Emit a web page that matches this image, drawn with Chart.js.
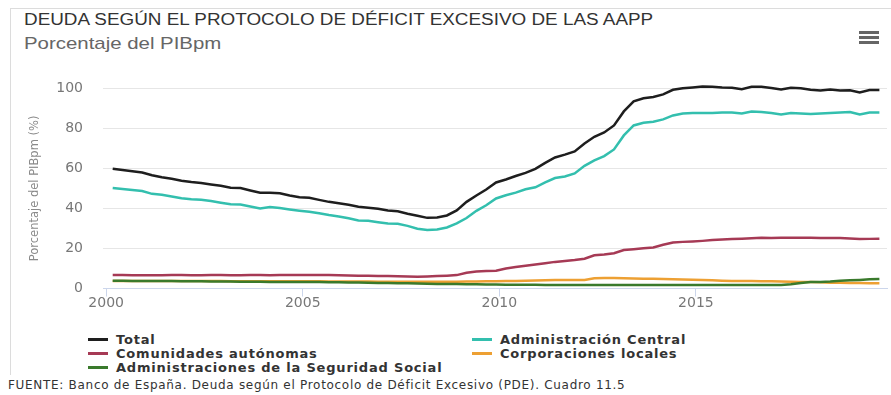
<!DOCTYPE html>
<html lang="es">
<head>
<meta charset="utf-8">
<script src="https://cdn.jsdelivr.net/npm/chart.js@4/dist/chart.umd.min.js"></script>
<style>
  html, body { margin: 0; padding: 0; background: #fff; }
  #pagina { position: relative; width: 891px; height: 395px; overflow: hidden; font-family: 'DejaVu Sans', sans-serif; }
  #marco { position: absolute; left: 10px; top: 8px; width: 900px; height: 366px; border-left: 1px solid #dcdcdc; border-top: 1px solid #dcdcdc; }
  #titulo { position: absolute; left: 24px; top: 11px; font: 16px 'Liberation Sans', Arial, sans-serif; color: #333; white-space: nowrap; transform: scaleX(1.18); transform-origin: left center; }
  #subtitulo { position: absolute; left: 24px; top: 34px; font: 17px 'Liberation Sans', Arial, sans-serif; color: #666; white-space: nowrap; transform: scaleX(1.2); transform-origin: left center; }
  #menu { position: absolute; left: 859px; top: 31px; width: 20px; }
  #menu div { height: 3px; background: #666; margin-bottom: 2px; }
  #lienzo { position: absolute; left: 0; top: 60px; width: 891px; height: 260px; }
  #leyenda { position: absolute; left: 88px; top: 333px; width: 780px; }
  .item { position: absolute; font: bold 13px 'DejaVu Sans', sans-serif; letter-spacing: 0.8px; color: #333; white-space: nowrap; line-height: 14px; }
  .item span { display: inline-block; width: 20px; height: 3px; vertical-align: middle; margin-right: 8px; position: relative; top: -1px; }
  #fuente { position: absolute; left: 8px; top: 378px; font: 12px 'DejaVu Sans', sans-serif; letter-spacing: 0.7px; color: #333; white-space: nowrap; }
</style>
</head>
<body>
<div id="pagina">
  <div id="marco"></div>
  <div id="titulo">DEUDA SEGÚN EL PROTOCOLO DE DÉFICIT EXCESIVO DE LAS AAPP</div>
  <div id="subtitulo">Porcentaje del PIBpm</div>
  <div id="menu"><div></div><div></div><div></div></div>
  <div id="lienzo"><canvas id="grafica"></canvas></div>
  <div id="leyenda"></div>
  <div id="fuente">FUENTE: Banco de España. Deuda según el Protocolo de Déficit Excesivo (PDE). Cuadro 11.5</div>
</div>
<script>
// Trimestres 2000-T1 ... 2019-T3 (dato de fin de trimestre)
const trimestres = [];
for (let a = 2000; a <= 2019; a++) {
  for (let t = 1; t <= 4; t++) {
    if (a === 2019 && t > 3) break;
    trimestres.push(a + '-T' + t);
  }
}

const anios = [2000, 2005, 2010, 2015];
const marcasY = [0, 20, 40, 60, 80, 100];

const total = [
  59.8, 59.2, 58.6, 58.0, 56.6, 55.6, 54.8, 53.9, 53.2, 52.7,
  52.0, 51.3, 50.4, 50.2, 49.0, 47.9, 47.9, 47.6, 46.5, 45.6,
  45.3, 44.3, 43.3, 42.6, 41.8, 40.9, 40.4, 39.8, 39.0, 38.6,
  37.4, 36.4, 35.3, 35.5, 36.5, 39.0, 43.3, 46.5, 49.5, 53.0,
  54.5, 56.2, 57.8, 59.8, 62.8, 65.5, 66.9, 68.5, 72.5, 75.8,
  78.0, 81.5, 88.5, 93.5, 95.1, 95.7, 97.0, 99.3, 100.1, 100.5,
  101.0, 100.8, 100.4, 100.3, 99.6, 100.8, 100.8, 100.2, 99.5, 100.3,
  100.1, 99.3, 99.0, 99.5, 99.0, 99.1, 98.0, 99.2, 99.2
];
const adminCentral = [
  50.2, 49.7, 49.2, 48.7, 47.3, 46.8, 46.0, 45.1, 44.6, 44.3,
  43.7, 42.9, 42.1, 42.0, 41.0, 40.0, 40.7, 40.2, 39.5, 38.9,
  38.4, 37.6, 36.7, 36.0, 35.1, 34.0, 33.8, 33.1, 32.5, 32.4,
  31.3, 29.9, 29.2, 29.5, 30.5, 32.5, 35.2, 38.8, 41.6, 45.0,
  46.6, 47.9, 49.6, 50.6, 53.0, 55.2, 56.0, 57.5, 61.3, 64.0,
  66.2, 69.5, 76.5, 81.5, 82.8, 83.3, 84.5, 86.5, 87.5, 87.7,
  87.7, 87.7, 87.9, 87.9, 87.5, 88.5, 88.2, 87.7, 87.0, 87.7,
  87.5, 87.2, 87.4, 87.7, 88.0, 88.2, 87.0, 88.0, 88.0
];
const comunidades = [
  6.7, 6.7, 6.6, 6.6, 6.6, 6.6, 6.7, 6.7, 6.6, 6.6,
  6.7, 6.7, 6.6, 6.6, 6.7, 6.7, 6.6, 6.7, 6.8, 6.7,
  6.8, 6.8, 6.7, 6.6, 6.5, 6.4, 6.4, 6.3, 6.2, 6.1,
  6.0, 5.9, 6.0, 6.2, 6.4, 6.7, 7.9, 8.5, 8.8, 8.9,
  10.0, 10.7, 11.4, 12.0, 12.6, 13.3, 13.8, 14.2, 14.9, 16.6,
  17.0, 17.6, 19.2, 19.6, 20.1, 20.5, 21.9, 23.0, 23.3, 23.5,
  23.8, 24.2, 24.5, 24.7, 24.9, 25.1, 25.4, 25.2, 25.3, 25.4,
  25.4, 25.3, 25.2, 25.2, 25.2, 25.0, 24.7, 24.8, 24.9
];
const corporaciones = [
  3.8, 3.8, 3.8, 3.8, 3.7, 3.7, 3.7, 3.7, 3.7, 3.7,
  3.7, 3.7, 3.6, 3.6, 3.6, 3.6, 3.6, 3.6, 3.6, 3.6,
  3.6, 3.6, 3.5, 3.5, 3.5, 3.5, 3.5, 3.4, 3.4, 3.4,
  3.4, 3.4, 3.4, 3.4, 3.4, 3.4, 3.5, 3.5, 3.6, 3.6,
  3.7, 3.8, 3.9, 4.0, 4.1, 4.2, 4.2, 4.3, 4.3, 5.1,
  5.2, 5.2, 5.1, 5.0, 4.9, 4.9, 4.7, 4.6, 4.5, 4.4,
  4.3, 4.1, 3.9, 3.8, 3.7, 3.7, 3.6, 3.6, 3.5, 3.4,
  3.3, 3.2, 3.1, 2.9, 2.9, 2.8, 2.7, 2.6, 2.6
];
const seguridadSocial = [
  3.9, 3.9, 3.8, 3.8, 3.8, 3.7, 3.7, 3.6, 3.6, 3.6,
  3.5, 3.5, 3.5, 3.4, 3.4, 3.4, 3.3, 3.3, 3.3, 3.3,
  3.2, 3.2, 3.1, 3.1, 3.0, 3.0, 2.9, 2.8, 2.7, 2.6,
  2.6, 2.5, 2.4, 2.3, 2.3, 2.2, 2.1, 2.1, 2.0, 2.0,
  1.9, 1.9, 1.9, 1.9, 1.8, 1.8, 1.8, 1.8, 1.8, 1.8,
  1.8, 1.8, 1.7, 1.7, 1.7, 1.7, 1.7, 1.7, 1.7, 1.7,
  1.7, 1.7, 1.7, 1.7, 1.7, 1.7, 1.7, 1.7, 1.8, 2.1,
  2.8, 3.2, 3.3, 3.5, 3.9, 4.1, 4.3, 4.6, 4.8
];

// posición en el eje: año + mes de cierre del trimestre
function fecha(etq) {
  const [a, t] = etq.split('-T');
  return parseInt(a) + (3 * parseInt(t) - 1) / 12;
}
function puntos(valores) {
  return valores.map((v, i) => ({ x: fecha(trimestres[i]), y: v }));
}

const series = [
  { label: 'Total', data: total, color: '#1e1e1e', col: 0, fila: 0, orden: 5 },
  { label: 'Administración Central', data: adminCentral, color: '#33bfae', col: 1, fila: 0, orden: 4 },
  { label: 'Comunidades autónomas', data: comunidades, color: '#a63a55', col: 0, fila: 1, orden: 3 },
  { label: 'Corporaciones locales', data: corporaciones, color: '#eda033', col: 1, fila: 1, orden: 2 },
  { label: 'Administraciones de la Seguridad Social', data: seguridadSocial, color: '#3a7a2c', col: 0, fila: 2, orden: 1 }
];

const datasets = series.map(s => ({
  label: s.label,
  data: puntos(s.data),
  borderColor: s.color,
  backgroundColor: s.color,
  borderWidth: 2.5,
  pointRadius: 0,
  tension: 0,
  fill: false,
  clip: false,
  order: s.orden
}));

const ctx = document.getElementById('grafica').getContext('2d');
new Chart(ctx, {
  type: 'line',
  data: { datasets: datasets },
  options: {
    responsive: true,
    maintainAspectRatio: false,
    animation: false,
    layout: { padding: { left: 0, top: 25, right: 4, bottom: 0 } },
    plugins: {
      legend: { display: false },
      tooltip: { enabled: false }
    },
    scales: {
      x: {
        type: 'linear',
        min: 1999.92,
        max: 2019.86,
        afterBuildTicks: function(scale) {
          scale.ticks = anios.map(v => ({ value: v }));
        },
        afterFit: function(scale) { scale.height = 31.5; },
        grid: { drawOnChartArea: false, drawTicks: true, tickLength: 8, color: '#ccd6eb' },
        border: { display: true, color: '#ccd6eb' },
        ticks: {
          padding: -2,
          color: '#777',
          font: { family: 'DejaVu Sans', size: 14 },
          maxRotation: 0,
          callback: v => String(v)
        }
      },
      y: {
        min: 0,
        max: 100,
        afterBuildTicks: function(scale) {
          scale.ticks = marcasY.map(v => ({ value: v }));
        },
        afterFit: function(scale) { scale.width = 103; },
        grid: { color: '#e6e6e6', drawTicks: false },
        border: { display: false },
        ticks: {
          padding: 20,
          color: '#777',
          font: { family: 'DejaVu Sans', size: 14 }
        },
        title: {
          display: true,
          text: 'Porcentaje del PIBpm (%)',
          color: '#8a8a8a',
          font: { family: 'DejaVu Sans', size: 11.5 },
          padding: { top: 28, bottom: 0 }
        }
      }
    }
  }
});

// leyenda en dos columnas
const leyenda = document.getElementById('leyenda');
series.forEach(s => {
  const el = document.createElement('div');
  el.className = 'item';
  el.style.left = (s.col * 384) + 'px';
  el.style.top = (s.fila * 14) + 'px';
  el.innerHTML = '<span style="background:' + s.color + '"></span>' + s.label;
  leyenda.appendChild(el);
});
</script>
</body>
</html>
